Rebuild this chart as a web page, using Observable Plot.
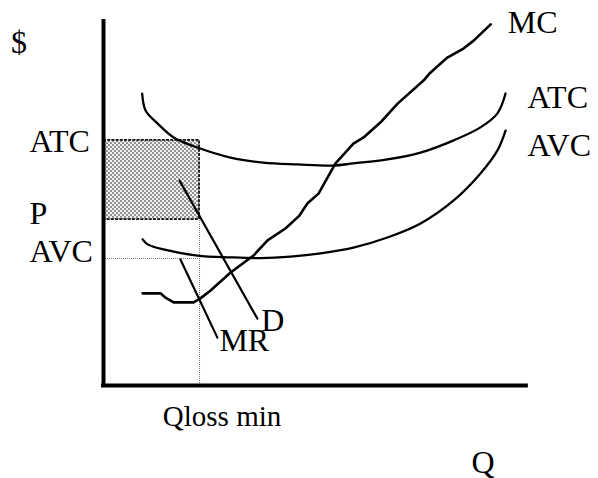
<!DOCTYPE html>
<html><head><meta charset="utf-8">
<script src="https://cdn.jsdelivr.net/npm/d3@7"></script>
<script src="https://cdn.jsdelivr.net/npm/@observablehq/plot@0.6"></script>
<style>body{margin:0;background:#fff}</style>
</head><body><div id="chart"></div>
<script>
// Quantity (Q) and $ values (arbitrary units 0-100)
const atcQ = [9.1, 9.9, 12.7, 16.5, 22.1, 29.9, 37.6, 45.6, 54.1, 58.8, 66.8, 74.6, 82.4, 88.7, 92.7, 94.6];
const atcP = [81.1, 76.4, 72.8, 68.9, 66.1, 63.3, 61.9, 61.4, 61.1, 61.7, 62.8, 64.7, 68.1, 71.7, 75.6, 81.1];
const avcQ = [9.2, 10.4, 14.1, 22.1, 29.9, 36.9, 44.0, 51.1, 58.8, 66.8, 74.6, 82.4, 88.7, 92.7, 94.6];
const avcP = [40.6, 39.2, 37.8, 36.1, 35.6, 35.4, 35.8, 36.7, 38.3, 41.1, 45.0, 51.4, 58.9, 65.3, 70.8];
const mcQ = [9.2, 13.4, 14.6, 16.5, 21.2, 22.8, 25.2, 29.9, 35.3, 38.6, 42.8, 46.1, 48.0, 50.6, 53.4, 54.6, 58.8, 61.2, 65.2, 69.2, 75.3, 76.9, 80.9, 84.7, 87.1, 91.1];
const mcP = [25.6, 25.6, 24.4, 23.1, 23.1, 24.2, 26.4, 31.4, 36.1, 40.3, 43.6, 47.2, 50.6, 53.3, 59.2, 61.7, 67.2, 68.9, 73.1, 78.3, 84.7, 86.9, 91.1, 93.6, 95.8, 100.3];
const demandQ = [17.9, 36.2];
const demandP = [56.9, 18.6];
const mrQ = [18.1, 26.8];
const mrP = [35.0, 13.3];
const levelNames = ["ATC", "P", "AVC"];
const levelValues = [68.1, 46.1, 35.3];
const qLossMin = 22.6;
const axisTitles = ["$", "Q"];

const zip = (qs, ps) => qs.map((q, i) => ({q, p: ps[i]}));
const atc = zip(atcQ, atcP), avc = zip(avcQ, avcP), mc = zip(mcQ, mcP);
const demand = zip(demandQ, demandP), mr = zip(mrQ, mrP);
const last = a => a[a.length - 1];
const font = "Liberation Serif, Times New Roman, serif";
const fs = 32;

const levelLabel = (i, dy) => Plot.text([levelNames[i]], {x: 0, y: levelValues[i], text: d => d, textAnchor: "start", lineAnchor: "bottom", dx: -74, dy, fontSize: fs, fontFamily: font});

const chart = Plot.plot({
  width: 598, height: 478,
  marginLeft: 103, marginRight: 70, marginTop: 25, marginBottom: 93,
  x: {domain: [0, 100], axis: null},
  y: {domain: [0, 100], axis: null},
  style: {background: "white", overflow: "visible"},
  marks: [
    // loss rectangle
    Plot.rect([{x1: 0, x2: qLossMin, y1: levelValues[1], y2: levelValues[0]}],
      {x1: "x1", x2: "x2", y1: "y1", y2: "y2", fill: "url(#dots)", stroke: "#111", strokeWidth: 1.8, strokeDasharray: "3,1.2"}),
    // dotted guides
    Plot.ruleX([qLossMin], {y1: 0, y2: levelValues[1], stroke: "#777", strokeWidth: 1, strokeDasharray: "1,1"}),
    Plot.ruleY([levelValues[2]], {x1: 0, x2: qLossMin, stroke: "#777", strokeWidth: 1, strokeDasharray: "1,1"}),
    // curves
    Plot.line(atc, {x: "q", y: "p", curve: "catmull-rom", stroke: "black", strokeWidth: 2.3}),
    Plot.line(avc, {x: "q", y: "p", curve: "catmull-rom", stroke: "black", strokeWidth: 2.3}),
    Plot.line(mc, {x: "q", y: "p", stroke: "black", strokeWidth: 2.6, strokeLinejoin: "round"}),
    Plot.line(demand, {x: "q", y: "p", stroke: "black", strokeWidth: 2.2}),
    Plot.line(mr, {x: "q", y: "p", stroke: "black", strokeWidth: 2.2}),
    // axes
    Plot.ruleX([0], {y1: 0, y2: 101.1, stroke: "black", strokeWidth: 4, strokeLinecap: "square"}),
    Plot.ruleY([0], {x1: 0, x2: 99.5, stroke: "black", strokeWidth: 4, strokeLinecap: "square"}),
    // curve labels
    Plot.text([last(mc)], {x: "q", y: "p", text: () => "MC", textAnchor: "start", lineAnchor: "bottom", dx: 17, dy: 9, fontSize: fs, fontFamily: font}),
    Plot.text([last(atc)], {x: "q", y: "p", text: () => "ATC", textAnchor: "start", lineAnchor: "bottom", dx: 22, dy: 14, fontSize: fs, fontFamily: font}),
    Plot.text([last(avc)], {x: "q", y: "p", text: () => "AVC", textAnchor: "start", lineAnchor: "bottom", dx: 22, dy: 25, fontSize: fs, fontFamily: font}),
    Plot.text([last(demand)], {x: "q", y: "p", text: () => "D", textAnchor: "start", lineAnchor: "bottom", dx: 4, dy: 12, fontSize: fs, fontFamily: font}),
    Plot.text([last(mr)], {x: "q", y: "p", text: () => "MR", textAnchor: "start", lineAnchor: "bottom", dx: 2, dy: 13, fontSize: fs, fontFamily: font}),
    // price level labels on the left
    levelLabel(0, 12),
    levelLabel(1, 4),
    levelLabel(2, 4),
    // axis titles
    Plot.text([axisTitles[0]], {x: 0, y: 100, text: d => d, textAnchor: "middle", lineAnchor: "bottom", dx: -84.5, dy: 27, fontSize: fs, fontFamily: font}),
    Plot.text([axisTitles[1]], {x: 89.3, y: 0, text: d => d, textAnchor: "middle", lineAnchor: "bottom", dy: 87, fontSize: fs, fontFamily: font}),
    Plot.text(["Qloss min"], {x: qLossMin, y: 0, text: d => d, textAnchor: "middle", lineAnchor: "bottom", dx: 22.5, dy: 40, fontSize: 29, fontFamily: font})
  ]
});

const defs = d3.select(chart).insert("defs", ":first-child");
const pat = defs.append("pattern").attr("id", "dots").attr("patternUnits", "userSpaceOnUse").attr("width", 4).attr("height", 4);
pat.append("rect").attr("width", 4).attr("height", 4).attr("fill", "#f0f0f0");
pat.append("circle").attr("cx", 1).attr("cy", 1).attr("r", 0.95).attr("fill", "#6a6a6a");
pat.append("circle").attr("cx", 3).attr("cy", 3).attr("r", 0.95).attr("fill", "#6a6a6a");

document.getElementById("chart").appendChild(chart);
</script>
</body></html>
